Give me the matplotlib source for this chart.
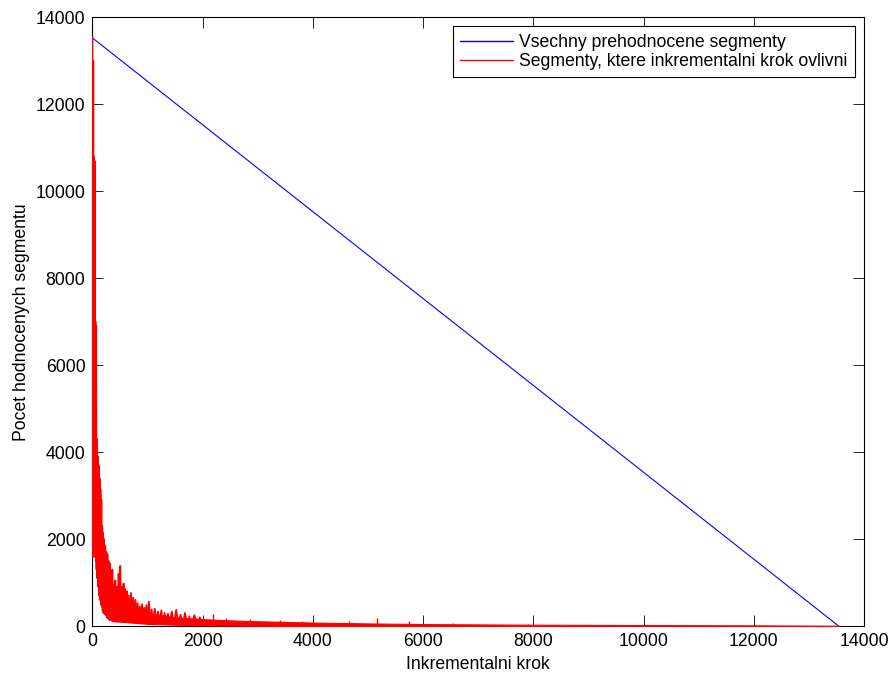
import matplotlib
matplotlib.use("Agg")
import matplotlib.pyplot as plt

plt.rcParams['font.family'] = ['Liberation Sans', 'DejaVu Sans']

# vsechny prehodnocene segmenty (primka od poctu segmentu k nule)
all_steps = [0, 13540]
all_counts = [13530, 0]

# segmenty ovlivnene krokem - odectene hodnoty (stridave horni / dolni obalka)
red_steps = [0, 8, 15, 22, 28, 35, 42, 48, 55, 62, 68, 75, 82, 90, 98, 106,
             114, 122, 130, 138, 146, 154, 162, 170, 178, 186, 194, 202, 212,
             222, 232, 242, 252, 262, 272, 282, 292, 302, 312, 322, 335, 348,
             361, 374, 387, 400, 415, 430, 445, 460, 475, 490, 505, 520, 535,
             550, 565, 580, 595, 610, 625, 640, 660, 680, 700, 720, 740, 760,
             780, 800, 820, 840, 860, 880, 900, 920, 940, 960, 980, 1000, 1025,
             1050, 1075, 1100, 1130, 1160, 1190, 1220, 1250, 1280, 1310, 1340,
             1370, 1400, 1440, 1480, 1520, 1560, 1600, 1640, 1680, 1720, 1760,
             1800, 1850, 1900, 1950, 2000]
red_counts = [13550, 1600, 13000, 1800, 10800, 1700, 10700, 2000, 7000, 1500,
              6900, 1300, 4300, 1100, 3900, 900, 3700, 700, 3400, 600, 3150,
              500, 2900, 450, 2300, 350, 2150, 300, 2000, 280, 1850, 250, 1700,
              200, 1650, 180, 1500, 150, 1450, 140, 1100, 130, 1300, 110, 950,
              120, 1050, 100, 900, 130, 1200, 110, 1380, 120, 900, 100, 980,
              130, 850, 100, 800, 120, 700, 110, 760, 100, 650, 90, 600, 80,
              520, 90, 450, 70, 500, 60, 420, 80, 480, 60, 560, 70, 380, 50,
              400, 60, 330, 40, 360, 50, 300, 40, 280, 50, 330, 30, 370, 40,
              260, 30, 300, 30, 220, 20, 250, 30, 200, 20]

# husty pas sumu (dolni a horni mez plne vybarvene casti)
band_steps = [0, 50, 100, 150, 200, 300, 400, 500, 700, 1000, 1500, 2000,
              2500, 3000, 4000, 5000, 6000, 8000, 10000, 12000, 13540]
band_lo = [1600, 1600, 900, 550, 350, 150, 110, 100, 80, 50, 30, 15,
           10, 5, 0, 0, 0, 0, 0, 0, 0]
band_hi = [4000, 3500, 2800, 2000, 1500, 1000, 800, 650, 450, 300, 200, 160,
           130, 110, 80, 60, 45, 30, 22, 15, 5]

# ojedinele spicky v pozdejsi casti
spike_steps = [2180, 2420, 2860, 3400, 3800, 4650, 5160, 5740, 6550, 7900]
spike_counts = [280, 190, 170, 150, 120, 110, 180, 115, 70, 55]

fig = plt.figure(figsize=(8.93, 6.73), dpi=100)
ax = fig.add_axes([0.1035, 0.0698, 0.8640, 0.9042])

ax.plot(all_steps, all_counts, color='blue', lw=0.8,
        label='Vsechny prehodnocene segmenty')
ax.plot(red_steps, red_counts, color='red', lw=1.3, zorder=3,
        label='Segmenty, ktere inkrementalni krok ovlivni')
ax.fill_between(band_steps, band_lo, band_hi, color='red', lw=0.8, zorder=3)
ax.vlines(spike_steps, 0, spike_counts, color='red', lw=1.0, zorder=3)

ax.set_xlim(0, 14000)
ax.set_ylim(0, 14000)
ax.set_xticks(range(0, 14001, 2000))
ax.set_yticks(range(0, 14001, 2000))
ax.tick_params(direction='in', length=7.7, width=0.6, labelsize=12.7,
               top=True, right=True, pad=5)
for s in ax.spines.values():
    s.set_linewidth(0.8)

ax.set_xlabel('Inkrementalni krok', fontsize=12.7, labelpad=4)
ax.set_ylabel('Pocet hodnocenych segmentu', fontsize=12.7, labelpad=4)

leg = ax.legend(loc='upper right', fontsize=12.7, fancybox=False,
                framealpha=1, edgecolor='black', handlelength=3.0,
                borderaxespad=0.5, borderpad=0.42, labelspacing=0.12,
                handletextpad=0.35)
leg.get_frame().set_linewidth(0.8)
leg.set_zorder(5)
for h in leg.get_lines():
    h.set_linewidth(1.0)

fig.savefig('out.png', dpi=100)
